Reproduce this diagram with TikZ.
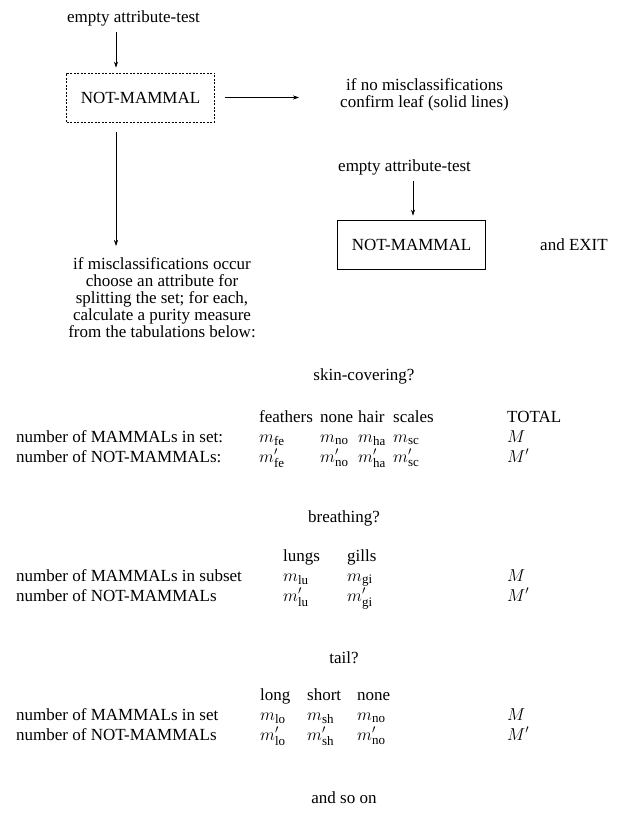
\documentclass[tikz,border=0pt]{standalone}
\usepackage{amsmath}
\usepackage{fontspec}
\setmainfont{Liberation Serif}
\DeclareMathSizes{17}{17}{13}{10}
\usetikzlibrary{positioning}
\usetikzlibrary{arrows.meta}

\begin{document}
\begin{tikzpicture}[x=1pt, y=-1pt,
    every node/.style={font=\fontsize{17}{17}\selectfont, inner sep=0pt},
    lbl/.style={anchor=base west},
    leafbox/.style={draw, line width=0.6pt, minimum width=148pt, minimum height=49pt},
    arr/.style={-{Stealth[length=6pt,width=4pt]}, line width=0.6pt}]
    \useasboundingbox (0,0) rectangle (622,818);

    % tentative leaf
    \node[lbl] (emptyL) at (67,23) {empty attribute-test};
    \node[leafbox, dash pattern=on 2pt off 1.5pt] (leafL) at (140.5,97.5) {NOT-MAMMAL};
    \coordinate (colL) at (116,0);
    \coordinate (rightend) at (299,97.5);
    \draw[arr] ([yshift=-5pt]emptyL.south -| colL) -- ([yshift=5pt]leafL.north -| colL);
    \draw[arr] ([xshift=10pt]leafL.east) -- (rightend);
    \node[align=center] (noerr) at (424.5,95) {if no misclassifications\\confirm leaf (solid lines)};

    % confirmed leaf
    \node[lbl] (emptyR) at (338,172) {empty attribute-test};
    \node[leafbox] (leafR) at (411.5,244.5) {NOT-MAMMAL};
    \coordinate (colR) at (413,0);
    \draw[arr] ([yshift=-5pt]emptyR.south -| colR) -- ([yshift=4pt]leafR.north -| colR);
    \node[lbl] (exit) at (540,251) {and EXIT};

    % split
    \node[align=center, anchor=north] (split) at (162,257) {if misclassifications occur\\choose an attribute for\\splitting the set; for each,\\calculate a purity measure\\from the tabulations below:};
    \draw[arr] ([yshift=-10pt]leafL.south -| colL) -- ([yshift=11pt]split.north -| colL);

    % skin-covering
    \node (skinq) at (364,376) {skin-covering?};
    \node[lbl] (fe) at (259,422) {feathers};
    \node[lbl] (no) at (320,422) {none};
    \node[lbl] (ha) at (358,422) {hair};
    \node[lbl] (sc) at (393,422) {scales};
    \node[lbl] (tot) at (507,422) {TOTAL};
    \node[lbl] (skinA) at (16,442) {number of MAMMALs in set:};
    \node[lbl] (skinB) at (16,462) {number of NOT-MAMMALs:};
    \foreach \nm/\xx/\sub in {fe/259/fe, no/320/no, ha/358/ha, sc/393/sc} {
        \node[lbl] (\nm A) at (\xx,442) {$m_{\text{\sub}}$};
        \node[lbl] (\nm B) at (\xx,462) {$m'_{\text{\sub}}$};
    }
    \node[lbl] (totA) at (507,442) {$M$};
    \node[lbl] (totB) at (507,462) {$M'$};

    % breathing
    \node (breq) at (344,518) {breathing?};
    \node[lbl] (lu) at (283,561) {lungs};
    \node[lbl] (gi) at (347,561) {gills};
    \node[lbl] (breA) at (16,581) {number of MAMMALs in subset};
    \node[lbl] (breB) at (16,601) {number of NOT-MAMMALs};
    \foreach \nm/\xx/\sub in {lu/283/lu, gi/347/gi} {
        \node[lbl] (\nm A) at (\xx,581) {$m_{\text{\sub}}$};
        \node[lbl] (\nm B) at (\xx,601) {$m'_{\text{\sub}}$};
    }
    \node[lbl] (breMA) at (507,581) {$M$};
    \node[lbl] (breMB) at (507,601) {$M'$};

    % tail
    \node (tailq) at (344,658) {tail?};
    \node[lbl] (lo) at (260,700) {long};
    \node[lbl] (sh) at (307,700) {short};
    \node[lbl] (nt) at (357,700) {none};
    \node[lbl] (tailA) at (16,720) {number of MAMMALs in set};
    \node[lbl] (tailB) at (16,740) {number of NOT-MAMMALs};
    \foreach \nm/\xx/\sub in {lo/260/lo, sh/307/sh, nt/357/no} {
        \node[lbl] (\nm A) at (\xx,720) {$m_{\text{\sub}}$};
        \node[lbl] (\nm B) at (\xx,740) {$m'_{\text{\sub}}$};
    }
    \node[lbl] (tailMA) at (507,720) {$M$};
    \node[lbl] (tailMB) at (507,740) {$M'$};

    \node (soon) at (344,798) {and so on};
\end{tikzpicture}
\end{document}
